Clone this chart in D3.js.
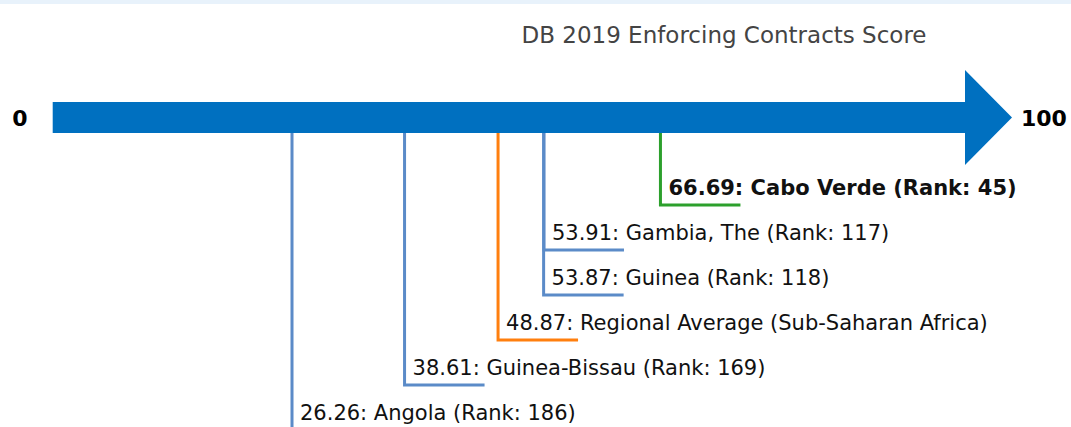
<!DOCTYPE html>
<html lang="en">
<head>
<meta charset="UTF-8">
<title>DB 2019 Enforcing Contracts Score</title>
<script src="https://d3js.org/d3.v7.min.js"></script>
<style>
  body { margin: 0; background: #fff; }
  svg { display: block; font-family: "DejaVu Sans", sans-serif; }
</style>
</head>
<body>
<div id="chart"></div>
<script>
// values, top label first
const economies = ["Cabo Verde", "Gambia, The", "Guinea", "Regional Average (Sub-Saharan Africa)", "Guinea-Bissau", "Angola"];
const scores = [66.69, 53.91, 53.87, 48.87, 38.61, 26.26];
const ranks = [45, 117, 118, null, 169, 186];
const kinds = ["focus", "peer", "peer", "region", "peer", "peer"];
const axisEnds = [0, 100];

const width = 1071, height = 427;
const colors = { focus: "#2ca02c", peer: "#5b8bc8", region: "#ff7f0e" };

const svg = d3.select("#chart").append("svg")
    .attr("width", width)
    .attr("height", height);

// thin band along the top
svg.append("rect")
    .attr("x", 0).attr("y", 0)
    .attr("width", width).attr("height", 4)
    .attr("fill", "#e8f2fb");

const x = d3.scaleLinear().domain(axisEnds).range([52.7, 964]);
const y = d3.scaleLinear().domain([0, economies.length - 1]).range([205, 430]);

const barTop = 102, barBottom = 133;

svg.append("text")
    .attr("x", 724).attr("y", 43)
    .attr("text-anchor", "middle")
    .attr("fill", "#444")
    .style("font-size", "23px")
    .text("DB 2019 Enforcing Contracts Score");

// arrow
const tipX = 1012, headTop = 70, headBottom = 165;
svg.append("path")
    .attr("d", `M${x(0)},${barTop} L${x(100) + 1},${barTop} L${x(100) + 1},${headTop} L${tipX},${(barTop + barBottom) / 2}
                L${x(100) + 1},${headBottom} L${x(100) + 1},${barBottom} L${x(0)},${barBottom} Z`)
    .attr("fill", "#0070c0");

svg.append("text")
    .attr("x", 20).attr("y", 126)
    .attr("text-anchor", "middle")
    .style("font-size", "22px").style("font-weight", "bold")
    .text(axisEnds[0]);

svg.append("text")
    .attr("x", 1021).attr("y", 126)
    .style("font-size", "22px").style("font-weight", "bold")
    .text(axisEnds[1]);

const rows = economies.map((name, i) => ({ name, score: scores[i], rank: ranks[i], kind: kinds[i], i }));

const g = svg.selectAll(".marker")
    .data(rows)
    .enter().append("g")
    .attr("class", "marker");

g.append("path")
    .attr("d", d => `M${x(d.score)},${barBottom} V${y(d.i)} H${x(d.score) + 80}`)
    .attr("fill", "none")
    .attr("stroke", d => colors[d.kind])
    .attr("stroke-width", 3);

g.append("text")
    .attr("x", d => x(d.score) + 8)
    .attr("y", d => y(d.i) - 10)
    .style("font-size", "21px")
    .style("font-weight", d => d.kind === "focus" ? "bold" : "normal")
    .attr("fill", "#111")
    .text(d => d.score.toFixed(2) + ": " + d.name + (d.rank ? " (Rank: " + d.rank + ")" : ""));
</script>
</body>
</html>
